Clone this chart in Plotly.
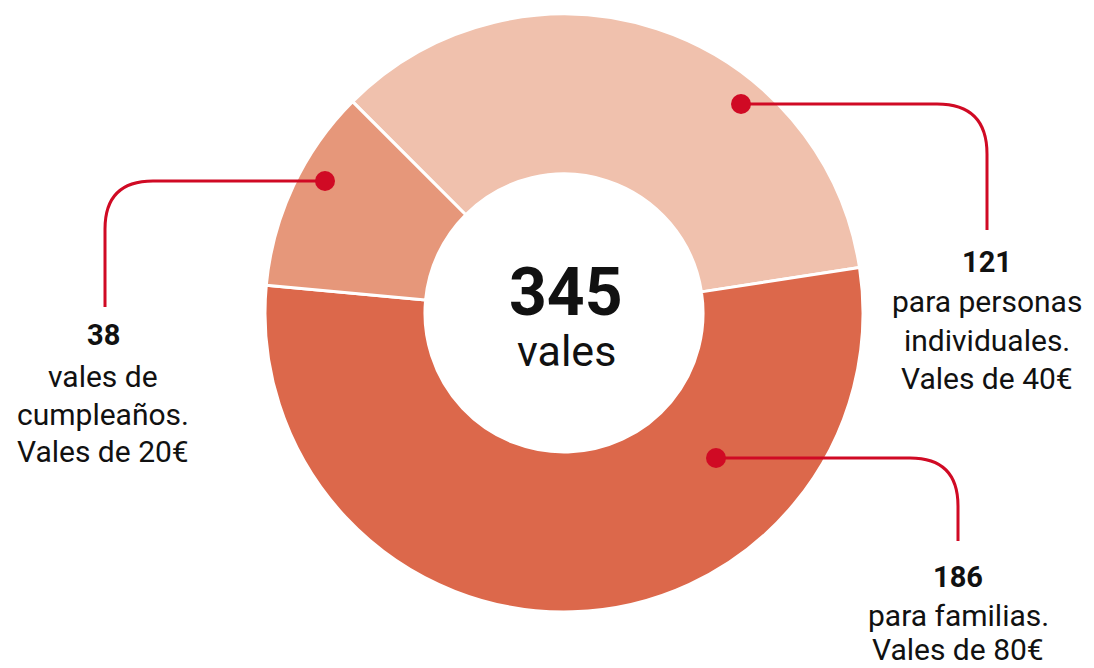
import plotly.graph_objects as go

categories = ["para personas individuales", "para familias", "vales de cumpleaños"]
values = [121, 186, 38]
colors = ["#F0C1AD", "#DC684B", "#E6977A"]
total_label = "345"
total_sub = "vales"

W, H = 1094, 668
RED = "#D00A24"
FONT = "Roboto"

fig = go.Figure()

# donut: center (564,313), radius 299 (pixels)
cx, cy, r = 564, 313, 299
fig.add_trace(go.Pie(
    values=values, labels=categories, sort=False, direction="clockwise",
    rotation=-45, hole=0.465, textinfo="none", hoverinfo="label+value",
    marker=dict(colors=colors, line=dict(color="white", width=3)),
    domain=dict(x=[(cx - r) / W, (cx + r) / W], y=[(H - cy - r) / H, (H - cy + r) / H]),
    showlegend=False,
))

# leader lines (pixel coordinate axes)
def leader(x0, y0, xc, yend, rad):
    s = 1 if xc > x0 else -1
    return (f"M {x0},{y0} L {xc - s*rad},{y0} Q {xc},{y0} {xc},{y0 + rad} L {xc},{yend}")

paths = [
    (741, 104, 987, 230, 50),
    (716, 458, 958, 541, 48),
    (325, 181, 105, 307, 48),
]
for x0, y0, xc, ye, rad in paths:
    fig.add_shape(type="path", path=leader(x0, y0, xc, ye, rad), xref="x", yref="y",
                  line=dict(color=RED, width=3), layer="above")
    fig.add_shape(type="circle", xref="x", yref="y", x0=x0 - 10, x1=x0 + 10, y0=y0 - 10, y1=y0 + 10,
                  fillcolor=RED, line=dict(width=0), layer="above")

def block(x, ys, lines):
    for i, (y, t) in enumerate(zip(ys, lines)):
        fig.add_annotation(x=x, y=y, xref="x", yref="y", showarrow=False,
                           text=f"<b>{t}</b>" if i == 0 else t,
                           font=dict(family=FONT, size=30 if i else 29, color="#111111"),
                           xanchor="center", yanchor="middle")

block(987, [262, 301, 340, 378], ["121", "para personas", "individuales.", "Vales de 40€"])
block(958, [577, 615, 649], ["186", "para familias.", "Vales de 80€"])
block(103, [335, 376, 414, 451], ["38", "vales de", "cumpleaños.", "Vales de 20€"])

fig.add_annotation(x=cx + 2, y=292, xref="x", yref="y", showarrow=False, text=f"<b>{total_label}</b>",
                   font=dict(family=FONT, size=66, color="#111111"), yanchor="middle")
fig.add_annotation(x=cx + 2, y=351, xref="x", yref="y", showarrow=False, text=total_sub,
                   font=dict(family=FONT, size=43, color="#111111"), yanchor="middle")

fig.update_layout(
    width=W, height=H, margin=dict(l=0, r=0, t=0, b=0),
    paper_bgcolor="white", plot_bgcolor="white",
    xaxis=dict(range=[0, W], visible=False, fixedrange=True),
    yaxis=dict(range=[H, 0], visible=False, fixedrange=True),
)

fig.write_html("out.html", config={"displayModeBar": False},
               post_script="document.body.style.margin='0';document.body.style.overflow='hidden';")
